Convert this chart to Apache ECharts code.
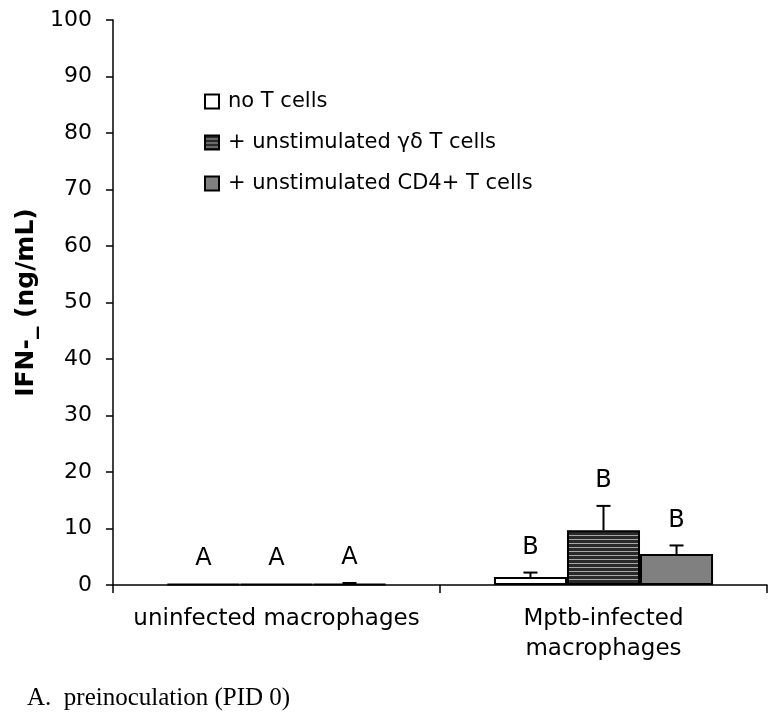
<!DOCTYPE html>
<html>
<head>
<meta charset="utf-8">
<script src="https://cdn.jsdelivr.net/npm/echarts@6/dist/echarts.min.js"></script>
<style>
html,body{margin:0;padding:0;background:#fff;}
#chart{width:782px;height:727px;}
</style>
</head>
<body>
<div id="chart"></div>
<script>
// ---- data ----
const categories = ['uninfected macrophages', 'Mptb-infected\nmacrophages'];
const seriesNames = ['no T cells', '+ unstimulated \u03b3\u03b4 T cells', '+ unstimulated CD4+ T cells'];
const noTValues = [0.15, 1.4];
const noTErrors = [0, 0.8];
const gdValues = [0.15, 9.7];
const gdErrors = [0, 4.3];
const cd4Values = [0.15, 5.5];
const cd4Errors = [0.2, 1.5];
const noTLetters = ['A', 'B'];
const gdLetters = ['A', 'B'];
const cd4Letters = ['A', 'B'];
const yTicks = [0, 10, 20, 30, 40, 50, 60, 70, 80, 90, 100];
const yName = 'IFN-_ (ng/mL)';
const caption = 'A.  preinoculation (PID 0)';

// ---- stripe pattern ----
const pat = document.createElement('canvas');
pat.width = 8; pat.height = 4;
const pctx = pat.getContext('2d');
pctx.fillStyle = '#2a2a2a'; pctx.fillRect(0, 0, 8, 4);
pctx.fillStyle = '#a8a8a8'; pctx.fillRect(0, 3, 8, 1);

const GAP = 0.33;
const FONT = 'DejaVu Sans, Verdana, sans-serif';

function errSeries(k, values, errors, letters) {
  return {
    type: 'custom',
    z: 10,
    silent: true,
    data: values.map((v, i) => [i, v, errors[i]]),
    renderItem: function (params, api) {
      const ci = api.value(0), v = api.value(1), e = api.value(2);
      const base = api.coord([ci, v]);
      const band = api.size([1, 0])[0];
      const bw = band * (1 - GAP) / 3;
      const x = base[0] + (k - 1) * bw;
      const top = api.coord([ci, v + e]);
      const children = [];
      if (e > 0) {
        children.push({ type: 'line', shape: { x1: x, y1: base[1], x2: x, y2: top[1] }, style: { stroke: '#000', lineWidth: 2 } });
        children.push({ type: 'line', shape: { x1: x - 7, y1: top[1], x2: x + 7, y2: top[1] }, style: { stroke: '#000', lineWidth: 2 } });
      }
      children.push({ type: 'text', x: x, y: top[1] - 25, style: { text: letters[params.dataIndex], fill: '#000', font: '24px ' + FONT, textAlign: 'center', textVerticalAlign: 'middle' } });
      return { type: 'group', children: children };
    }
  };
}

const chart = echarts.init(document.getElementById('chart'), null, { renderer: 'canvas' });
chart.setOption({
  animation: false,
  backgroundColor: '#fff',
  grid: { left: 113, right: 15, top: 20, bottom: 142 },
  legend: {
    orient: 'vertical', left: 199, top: 86,
    data: seriesNames,
    icon: 'rect', itemWidth: 14, itemHeight: 14, itemGap: 20,
    textStyle: { fontFamily: FONT, fontSize: 21, color: '#000', lineHeight: 21, padding: [0, 0, 0, 4] }
  },
  xAxis: {
    type: 'category', data: categories,
    axisLine: { lineStyle: { color: '#000', width: 1.5 } },
    axisTick: { show: true, length: 8, lineStyle: { color: '#000', width: 1.5 } },
    axisLabel: { fontFamily: FONT, fontSize: 23, color: '#000', lineHeight: 30, margin: 19, interval: 0 }
  },
  yAxis: {
    type: 'value', min: 0, max: 100, interval: 10,
    name: yName, nameLocation: 'middle', nameGap: 73,
    nameTextStyle: { fontFamily: FONT, fontSize: 25, fontWeight: 'bold', color: '#000' },
    axisLine: { show: true, lineStyle: { color: '#000', width: 1.5 } },
    axisTick: { show: true, length: 7, lineStyle: { color: '#000', width: 1.5 } },
    axisLabel: { fontFamily: FONT, fontSize: 22, color: '#000', margin: 21,
      formatter: v => yTicks.indexOf(v) >= 0 ? String(v) : '' },
    splitLine: { show: false }
  },
  graphic: [{
    type: 'text', left: 27, top: 686,
    style: { text: caption, font: '25px "Liberation Serif", "Times New Roman", serif', fill: '#000' }
  }],
  series: [
    { name: seriesNames[0], type: 'bar', data: noTValues, barGap: '0%', barCategoryGap: '33%',
      itemStyle: { color: '#fff', borderColor: '#000', borderWidth: 2 } },
    { name: seriesNames[1], type: 'bar', data: gdValues, barGap: '0%', barCategoryGap: '33%',
      itemStyle: { color: { image: pat, repeat: 'repeat' }, borderColor: '#000', borderWidth: 2 } },
    { name: seriesNames[2], type: 'bar', data: cd4Values, barGap: '0%', barCategoryGap: '33%',
      itemStyle: { color: '#808080', borderColor: '#000', borderWidth: 2 } },
    errSeries(0, noTValues, noTErrors, noTLetters),
    errSeries(1, gdValues, gdErrors, gdLetters),
    errSeries(2, cd4Values, cd4Errors, cd4Letters)
  ]
});
</script>
</body>
</html>
